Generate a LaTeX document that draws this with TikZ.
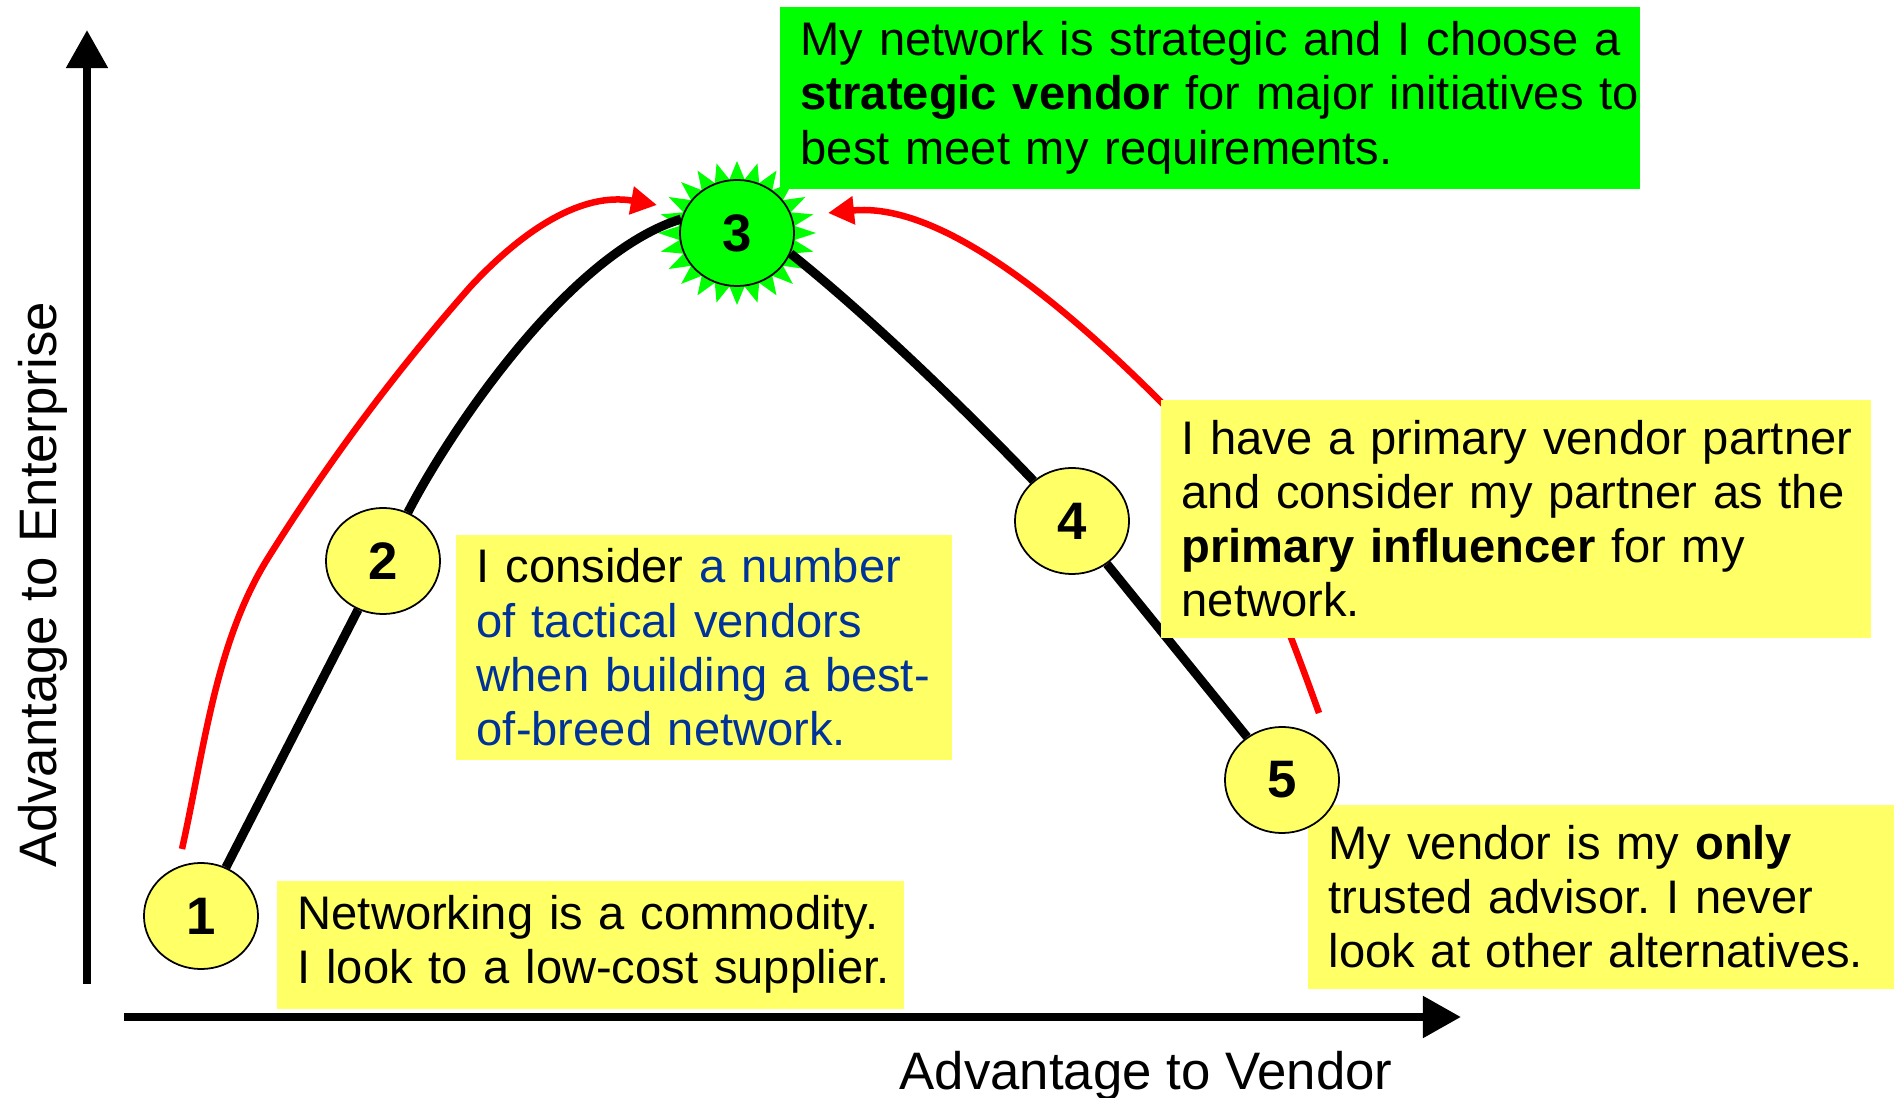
\documentclass[tikz,border=0pt]{standalone}
\usepackage{fontspec}
\setmainfont{Liberation Sans}
\usetikzlibrary{shapes.geometric,arrows.meta,backgrounds}

\definecolor{notefill}{HTML}{FFFF66}
\definecolor{sparkgreen}{HTML}{00FF00}
\definecolor{tacticblue}{HTML}{003399}

\tikzset{
    note/.style={anchor=north west, fill=notefill, inner xsep=0.21cm, inner ysep=0, align=left,
        font=\fontsize{13.4}{15.4}\selectfont\frenchspacing},
    stage/.style={ellipse, draw, line width=0.5pt, fill=notefill, minimum width=1.14cm,
        minimum height=1.06cm, inner sep=0, font=\fontsize{15}{18}\selectfont\bfseries},
    hill/.style={line width=0.09cm},
    shiftarrow/.style={draw=red, line width=0.065cm, -{Triangle[length=0.26cm,width=0.27cm]}},
    axisline/.style={line width=0.08cm, -{Triangle[length=0.38cm,width=0.4cm]}},
    axislabel/.style={inner sep=0, font=\fontsize{15}{18}\selectfont},
}

\begin{document}
\begin{tikzpicture}[x=0.01cm, y=-0.01cm]
    \useasboundingbox (0,0) rectangle (1894,1098);

    % text boxes
    \node[note, minimum width=6.27cm, minimum height=1.28cm, text width=5.85cm] (commodity) at (276,880)
        {\mbox{Networking is a commodity.}\\ \mbox{I look to a low-cost supplier.}};
    \node[note, minimum width=4.96cm, minimum height=2.25cm, text width=4.54cm] (tactical) at (455,534)
        {\mbox{I consider \textcolor{tacticblue}{a number}}\\ \mbox{\textcolor{tacticblue}{of tactical vendors}}\\
         \mbox{\textcolor{tacticblue}{when building a best-}}\\ \mbox{\textcolor{tacticblue}{of-breed network.}}};
    \node[note, fill=sparkgreen, minimum width=8.6cm, minimum height=1.82cm, text width=8.18cm] (strategic) at (779,6)
        {\mbox{My network is strategic and I choose a}\\ \mbox{\textbf{strategic vendor} for major initiatives to}\\
         \mbox{best meet my requirements.}};
    \node[note, minimum width=7.1cm, minimum height=2.38cm, text width=6.68cm] (primary) at (1160,399)
        {\mbox{I have a primary vendor partner}\\ \mbox{and consider my partner as the}\\
         \mbox{\textbf{primary influencer} for my}\\ \mbox{network.}};
    \node[note, minimum width=5.87cm, minimum height=1.84cm, text width=5.45cm] (only) at (1307,804)
        {\mbox{My vendor is my \textbf{only}}\\ \mbox{trusted advisor. I never}\\ \mbox{look at other alternatives.}};

    % stages
    \node[stage] (s1) at (201,916) {1};
    \node[stage] (s2) at (383,561) {2};
    \node[stage, fill=sparkgreen] (s3) at (737,233) {3};
    \node[stage] (s4) at (1072,521) {4};
    \node[stage] (s5) at (1282,780) {5};

    % axes
    \coordinate (yfoot) at (87,984);
    \coordinate (ytop) at (87,30);
    \coordinate (xfoot) at (124,1017);
    \coordinate (xtip) at (1461,1017);
    \draw[axisline] (yfoot) -- (ytop);
    \draw[axisline] (xfoot) -- (xtip);
    \node[axislabel, rotate=90, anchor=base] (ylab) at (57,585) {Advantage to Enterprise};
    \node[axislabel, anchor=base] (xlab) at (1146,1089) {Advantage to Vendor};

    % red shifts
    \coordinate (leftfoot) at (182,849);
    \coordinate (lefttip) at (657,205);
    \coordinate (rightfoot) at (1319,713);
    \coordinate (righttip) at (828,213);

    \begin{pgfonlayer}{background}
        % burst behind 3
        \fill[sparkgreen, shift={(s3.center)}] plot[samples=49, domain=0:48, variable=\k]
            ({(79-21*mod(round(\k),2))*cos(\k*7.5)}, {(72-18*mod(round(\k),2))*sin(\k*7.5)}) -- cycle;

        % the hill
        \draw[hill] (s1) -- (s2);
        \draw[hill] (s2) .. controls (447,436) and (567,254) .. (s3.166);
        \draw[hill] (s3.-21) .. controls (880,325) and (985,430) .. (s4);
        \draw[hill] (s4) -- (s5);

        % 1 up to 3
        \draw[shiftarrow] (leftfoot) .. controls (204,751) and (215,643) .. (268,558)
            .. controls (328,462) and (396,371) .. (471,286)
            .. controls (525,228) and (583,192) .. (lefttip);
        % 5 back to 3
        \draw[shiftarrow] (rightfoot) .. controls (1285,619) and (1231,472) .. (1160,401)
            .. controls (1054,295) and (937,202) .. (righttip);
    \end{pgfonlayer}
\end{tikzpicture}
\end{document}
